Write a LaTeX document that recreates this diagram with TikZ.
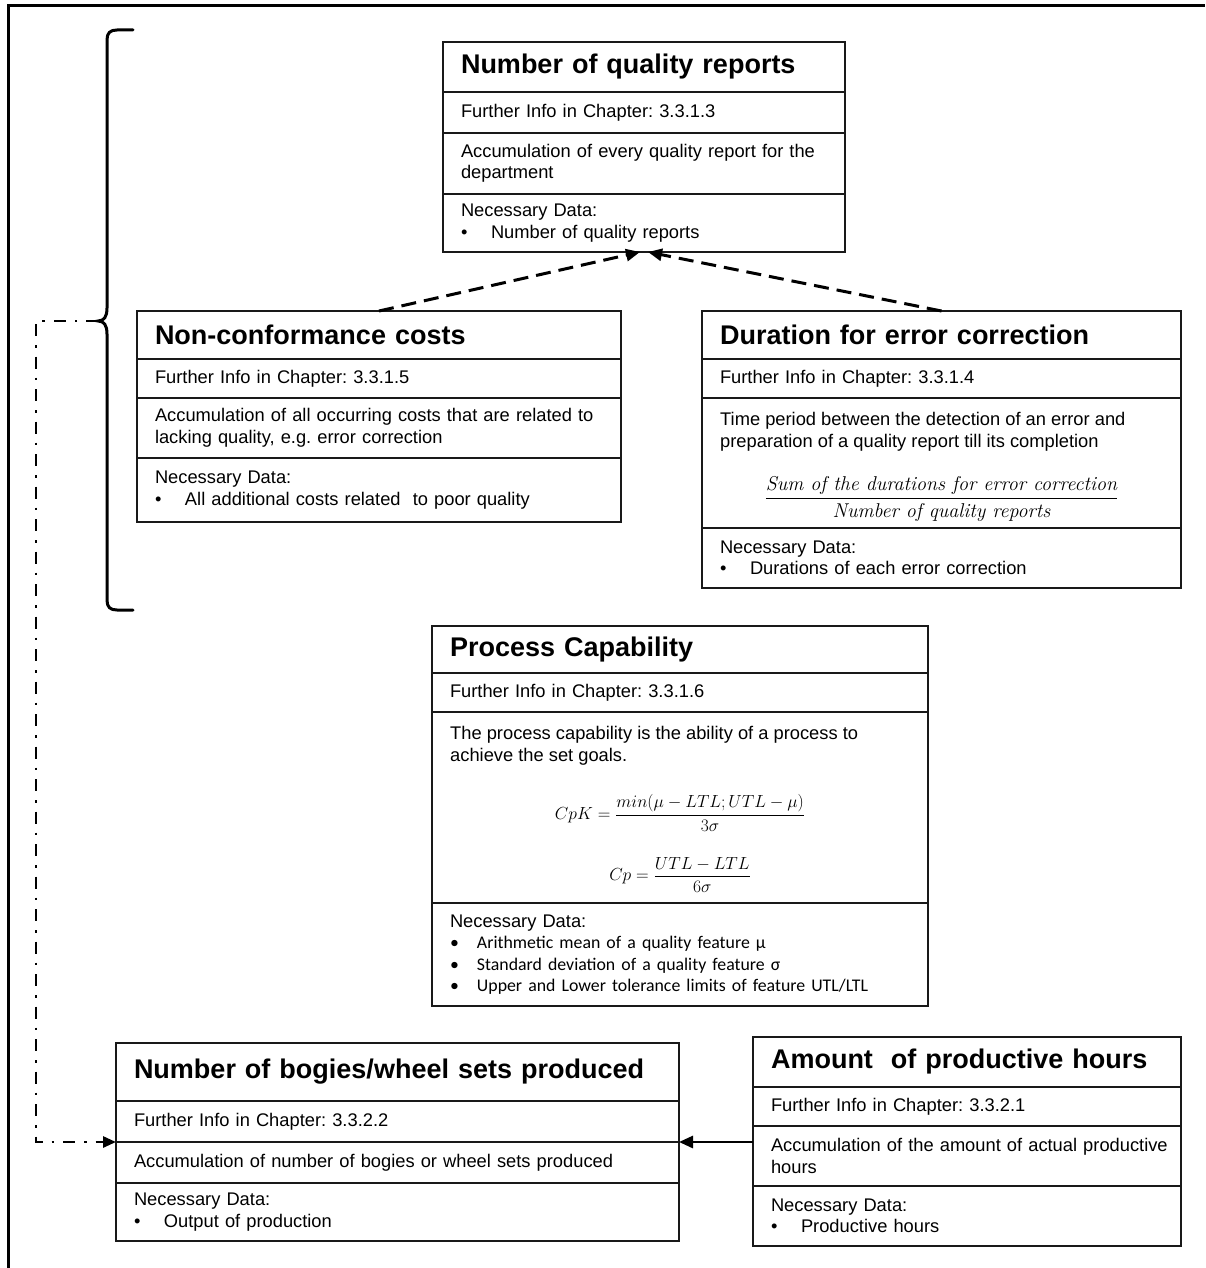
\RequirePackage{fix-cm}
\documentclass[tikz,border=0pt]{standalone}
\usepackage{amsmath}
\usepackage{fontspec}
\newfontfamily\arial{Liberation Sans}
\newfontfamily\calib{Carlito}
\usetikzlibrary{arrows.meta,calc}
\frenchspacing
\newcommand\bul{\makebox[30pt][l]{\textbullet}}
\newcommand\cbul{\makebox[27pt][l]{\textbullet}}
\newcommand\calline[1]{{\calib\fontsize{17.8}{21.5}\selectfont\cbul #1}}
\tikzset{
  cell/.style={draw=black!90, line width=2pt, anchor=north west, outer sep=0pt,
    inner xsep=18pt, inner ysep=0pt, align=left,
    font=\arial\fontsize{18.3}{21.5}\selectfont},
  hcell/.style={cell, font=\arial\bfseries\fontsize{27}{32}\selectfont},
  txt/.style={inner sep=0pt, align=left, font=\arial\fontsize{18.3}{21.5}\selectfont},
  formula/.style={inner sep=0pt, font=\fontsize{17.5}{22}\selectfont},
  ratio/.style={inner sep=0pt, font=\fontsize{20}{24}\selectfont},
  frame/.style={line width=3pt, black},
  depend/.style={line width=3pt, dash pattern=on 15pt off 8pt,
    -{Triangle[length=14pt,width=12pt]}},
  feeds/.style={line width=2.8pt, -{Triangle[length=14pt,width=12pt]}},
  mainlink/.style={line width=2.8pt, dash pattern=on 12pt off 9pt on 2.5pt off 9pt,
    -{Triangle[length=13pt,width=11pt]}},
  bracket/.style={line width=3pt, line cap=round},
}
\begin{document}
\begin{tikzpicture}[x=1pt,y=-1pt]
\useasboundingbox (0,0) rectangle (1205,1268);
\draw[frame] (8,1268) -- (8,6) -- (1205,6);

% Number of quality reports
\node[hcell, text width=366pt, minimum height=50pt] (qa) at (443,42) {Number of quality reports};
\node[cell, text width=366pt, minimum height=41pt] (qb) at (qa.south west) {Further Info in Chapter: 3.3.1.3};
\node[cell, text width=366pt, minimum height=61pt] (qc) at (qb.south west) {\mbox{Accumulation of every quality report for the}\\department};
\node[cell, text width=366pt, minimum height=58pt] (qd) at (qc.south west) {Necessary Data:\\\bul Number of quality reports};

% Non-conformance costs
\node[hcell, text width=448pt, minimum height=48pt] (na) at (137,311) {Non-conformance costs};
\node[cell, text width=448pt, minimum height=39pt] (nb) at (na.south west) {Further Info in Chapter: 3.3.1.5};
\node[cell, text width=448pt, minimum height=60pt] (nc) at (nb.south west) {\mbox{Accumulation of all occurring costs that are related to}\\lacking quality, e.g. error correction};
\node[cell, text width=448pt, minimum height=64pt] (nd) at (nc.south west) {Necessary Data:\\\bul All additional costs related~ to poor quality};

% Duration for error correction
\node[hcell, text width=443pt, minimum height=48pt] (da) at (702,311) {Duration for error correction};
\node[cell, text width=443pt, minimum height=39pt] (db) at (da.south west) {Further Info in Chapter: 3.3.1.4};
\node[cell, text width=443pt, minimum height=130pt] (dc) at (db.south west) {};
\node[cell, text width=443pt, minimum height=60pt] (dd) at (dc.south west) {Necessary Data:\\\bul Durations of each error correction};
\node[txt, anchor=base west] (dct) at ($(dc.north west)+(18,49)$) {\mbox{Time period between the detection of an error and}\\preparation of a quality report till its completion};
\node[ratio] (dcf) at ($(dc.north)+(0,101)$) {$\displaystyle\frac{\textit{Sum of the durations for error correction}}{\textit{Number of quality reports}}$};

% Process Capability
\node[hcell, text width=460pt, minimum height=47pt] (pa) at (432,626) {Process Capability};
\node[cell, text width=460pt, minimum height=39pt] (pb) at (pa.south west) {Further Info in Chapter: 3.3.1.6};
\node[cell, text width=460pt, minimum height=191pt] (pc) at (pb.south west) {};
\node[cell, text width=460pt, minimum height=103pt] (pd) at (pc.south west) {Necessary Data:\\\calline{Arithmetic mean of a quality feature μ}\\\calline{Standard deviation of a quality feature σ}\\\calline{Upper and Lower tolerance limits of feature UTL/LTL}};
\node[txt, anchor=base west] (pct) at ($(pc.north west)+(18,49)$) {\mbox{The process capability is the ability of a process to}\\achieve the set goals.};
\node[formula] (pcf1) at ($(pc.north)+(0,101)$) {$\displaystyle CpK=\frac{min(\mu-LTL;UTL-\mu)}{3\sigma}$};
\node[formula] (pcf2) at ($(pc.north)+(0,163)$) {$\displaystyle Cp=\frac{UTL-LTL}{6\sigma}$};

% Number of bogies/wheel sets produced
\node[hcell, text width=527pt, minimum height=58pt] (ba) at (116,1043) {Number of bogies/wheel sets produced};
\node[cell, text width=527pt, minimum height=41pt] (bb) at (ba.south west) {Further Info in Chapter: 3.3.2.2};
\node[cell, text width=527pt, minimum height=41pt] (bc) at (bb.south west) {Accumulation of number of bogies or wheel sets produced};
\node[cell, text width=527pt, minimum height=58pt] (bd) at (bc.south west) {Necessary Data:\\\bul Output of production};

% Amount of productive hours
\node[hcell, text width=392pt, minimum height=50pt] (ha) at (753,1037) {Amount~ of productive hours};
\node[cell, text width=392pt, minimum height=39pt] (hb) at (ha.south west) {Further Info in Chapter: 3.3.2.1};
\node[cell, text width=392pt, minimum height=60pt] (hc) at (hb.south west) {\mbox{Accumulation of the amount of actual productive}\\hours};
\node[cell, text width=392pt, minimum height=60pt] (hd) at (hc.south west) {Necessary Data:\\\bul Productive hours};

% dependencies of the quality reports
\draw[depend] (na.north) -- ($(qd.south)+(-4,0)$);
\draw[depend] (da.north) -- ($(qd.south)+(4,0)$);

% productive hours feed the output
\draw[feeds] (ha.west |- bb.south east) -- (bb.south east);

% bracket over the quality group
\coordinate (btip) at (98,321);
\coordinate (lane) at (36,321);
\draw[bracket] (133,30) -- (117,30) .. controls (110,30) and (107,33) .. (107,40)
  -- (107,308) .. controls (107,317) and (104,321) .. (btip)
  .. controls (104,321) and (107,325) .. (107,334)
  -- (107,600) .. controls (107,607) and (110,610) .. (117,610) -- (133,610);
\draw[mainlink] (btip) -- (lane) -- (lane |- bb.south west) -- (bb.south west);
\end{tikzpicture}
\end{document}
